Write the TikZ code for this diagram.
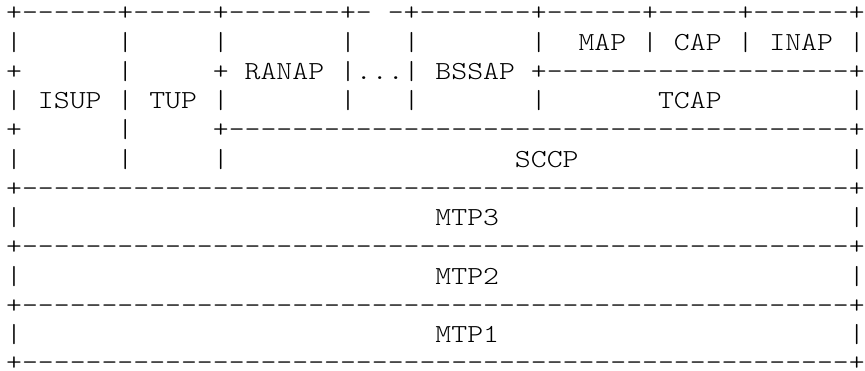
\documentclass[tikz,border=0pt]{standalone}
\usepackage{fontspec}
\newfontfamily\asciifont{lmmonolt10-regular.otf}[FakeStretch=1.1648]
\ExplSyntaxOn
\cs_new:Npn \reprt #1#2 { \prg_replicate:nn {#1} {#2} }
\ExplSyntaxOff
\newcommand\sps[1]{\reprt{#1}{~}}
\newcommand\dsh[1]{\reprt{#1}{-}}
\tikzset{asciiline/.style={inner sep=0pt, outer sep=0pt, anchor=base west,
  font=\asciifont\fontsize{26pt}{26pt}\selectfont}}
\begin{document}
\begin{tikzpicture}[x=1pt,y=1pt]
\useasboundingbox (0,0) rectangle (865,-371);
\node[asciiline] (l0)  at (6.2,-20.8)  {+\dsh{6}+\dsh{5}+\dsh{7}+-~-+\dsh{7}+\dsh{6}+\dsh{5}+\dsh{6}+};
\node[asciiline] (l1)  at (6.2,-50.05) {|\sps{6}|\sps{5}|\sps{7}|\sps{3}|\sps{7}|\sps{2}MAP~|~CAP~|~INAP~|};
\node[asciiline] (l2)  at (6.2,-79.3)  {+\sps{6}|\sps{5}+~RANAP~|...|~BSSAP~+\dsh{19}+};
\node[asciiline] (l3)  at (6.2,-108.55){|~ISUP~|~TUP~|\sps{7}|\sps{3}|\sps{7}|\sps{7}TCAP\sps{8}|};
\node[asciiline] (l4)  at (6.2,-137.8) {+\sps{6}|\sps{5}+\dsh{39}+};
\node[asciiline] (l5)  at (6.2,-167.05){|\sps{6}|\sps{5}|\sps{18}SCCP\sps{17}|};
\node[asciiline] (l6)  at (6.2,-196.3) {+\dsh{52}+};
\node[asciiline] (l7)  at (6.2,-225.55){|\sps{26}MTP3\sps{22}|};
\node[asciiline] (l8)  at (6.2,-254.8) {+\dsh{52}+};
\node[asciiline] (l9)  at (6.2,-284.05){|\sps{26}MTP2\sps{22}|};
\node[asciiline] (l10) at (6.2,-313.3) {+\dsh{52}+};
\node[asciiline] (l11) at (6.2,-342.55){|\sps{26}MTP1\sps{22}|};
\node[asciiline] (l12) at (6.2,-370.8) {+\dsh{52}+};
\end{tikzpicture}
\end{document}
